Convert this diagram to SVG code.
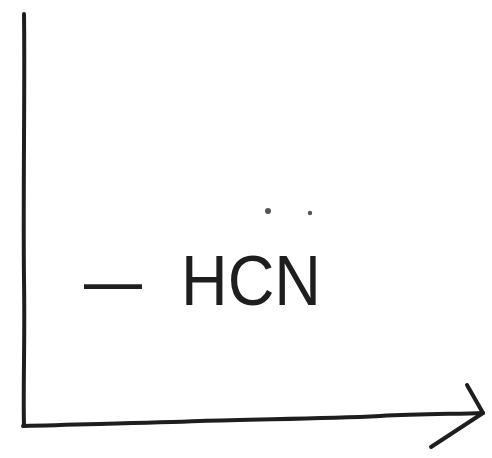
<svg xmlns="http://www.w3.org/2000/svg" width="492" height="458" viewBox="0 0 492 458">
  <style>
    .axis { fill: none; stroke: #1e1e1e; stroke-width: 4; stroke-linecap: round; stroke-linejoin: round; }
    .lbl { font-family: "Liberation Sans", Arial, sans-serif; font-size: 70px; fill: #1e1e1e; }
    .dot { fill: #555; }
  </style>
  <rect width="492" height="458" fill="#ffffff"/>
  <g id="connectors">
    <path id="y-axis" class="axis" d="M24,14 C25,80 23,200 24,280 C25,340 23,390 24,426"/>
    <path id="x-axis" class="axis" d="M23,426 C90,424 150,423 200,421 C260,419 320,419 380,416 C420,414 455,414 483,413"/>
    <path id="x-arrowhead" class="axis" d="M467,385 L483,413 L431,447"/>
  </g>
  <g id="label-hcn">
    <text class="lbl" x="84" y="305"><tspan x="84" textLength="58" lengthAdjust="spacingAndGlyphs">—</tspan><tspan x="181" textLength="140" lengthAdjust="spacingAndGlyphs">HCN</tspan></text>
    <circle class="dot" cx="268" cy="211" r="3"/>
    <circle class="dot" cx="310" cy="213" r="2.2"/>
  </g>
</svg>
